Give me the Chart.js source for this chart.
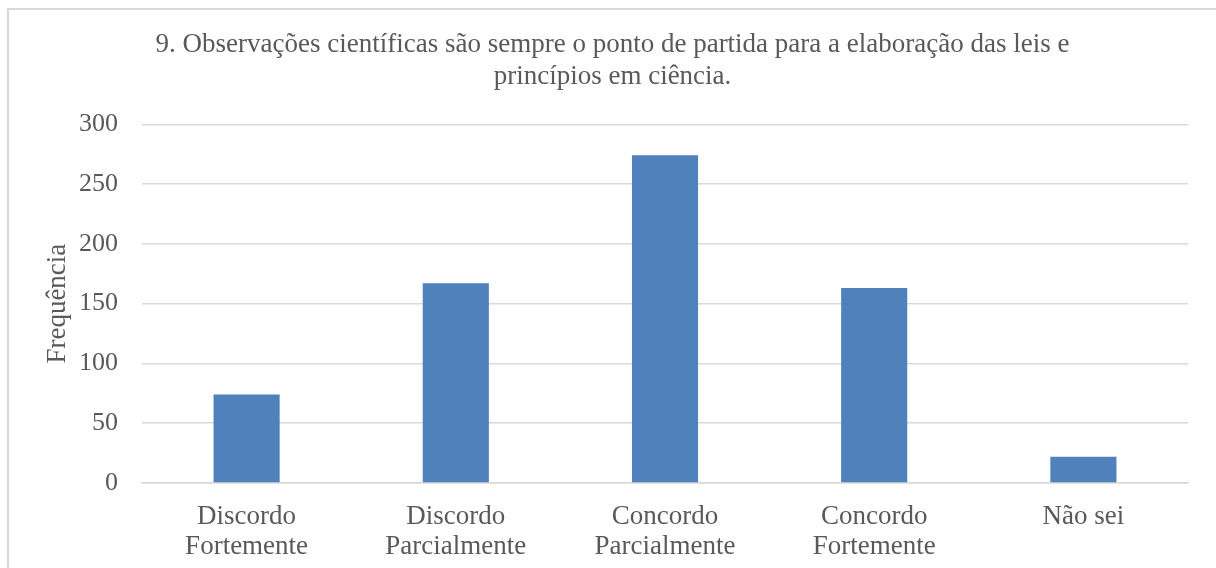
<!DOCTYPE html>
<html>
<head>
<meta charset="utf-8">
<script src="https://cdn.jsdelivr.net/npm/chart.js@4/dist/chart.umd.min.js"></script>
<style>
  html, body { margin: 0; padding: 0; background: #fff; overflow: hidden; }
  body { width: 1216px; height: 568px; position: relative; }
  #frame {
    position: absolute; left: 7px; top: 8px; width: 1300px; height: 700px;
    border-left: 2px solid #d9d9d9; border-top: 2px solid #d9d9d9;
    pointer-events: none;
  }
  #wrap { position: absolute; left: 9px; top: 10px; width: 1216px; height: 558px; }
</style>
</head>
<body>
<div id="wrap"><canvas id="chart"></canvas></div>
<div id="frame"></div>
<script>
const titleLines = [
  '9. Observações científicas são sempre o ponto de partida para a elaboração das leis e',
  'princípios em ciência.'
];
const categories = [
  ['Discordo', 'Fortemente'],
  ['Discordo', 'Parcialmente'],
  ['Concordo', 'Parcialmente'],
  ['Concordo', 'Fortemente'],
  'Não sei'
];
const frequencies = [74, 167, 274, 163, 22];
const yTicks = [0, 50, 100, 150, 200, 250, 300];

const serif = "'Liberation Serif', 'Times New Roman', serif";
const textColor = '#595959';
const gridColor = '#d9d9d9';

const ctx = document.getElementById('chart').getContext('2d');
new Chart(ctx, {
  type: 'bar',
  data: {
    labels: categories,
    datasets: [{
      label: 'Frequência',
      data: frequencies,
      backgroundColor: '#4f81bd',
      categoryPercentage: 1,
      barPercentage: 0.316
    }]
  },
  options: {
    responsive: true,
    maintainAspectRatio: false,
    animation: false,
    layout: { padding: { left: 0, right: 9, top: 0, bottom: 0 } },
    plugins: {
      legend: { display: false },
      tooltip: { enabled: false },
      title: {
        display: true,
        text: titleLines,
        color: textColor,
        font: { family: serif, size: 27, weight: 'normal', lineHeight: 1.19 },
        padding: { top: 19, bottom: 31 }
      }
    },
    scales: {
      x: {
        grid: { display: false, drawTicks: false },
        border: { display: true, color: gridColor, width: 1.5 },
        ticks: {
          color: textColor,
          padding: 19,
          maxRotation: 0,
          autoSkip: false,
          font: { family: serif, size: 27, lineHeight: 1.11 }
        },
        afterFit: s => { s.height = 85; }
      },
      y: {
        min: 0,
        max: 300,
        afterBuildTicks: s => { s.ticks = yTicks.map(v => ({ value: v })); },
        grid: { color: gridColor, lineWidth: 1.5, drawTicks: false },
        border: { display: false },
        ticks: {
          color: textColor,
          padding: 24,
          font: { family: serif, size: 26 }
        },
        title: {
          display: true,
          text: 'Frequência',
          color: textColor,
          font: { family: serif, size: 27, lineHeight: 1.2 },
          padding: { top: 33, bottom: 0 }
        },
        afterFit: s => { s.width = 133; }
      },
      // empty strip on the right so the plot ends where the reference does
      spacer: {
        type: 'linear',
        position: 'right',
        display: true,
        grid: { display: false, drawTicks: false },
        border: { display: false },
        ticks: { display: false },
        afterFit: s => { s.width = 28; }
      }
    }
  }
});
</script>
</body>
</html>
